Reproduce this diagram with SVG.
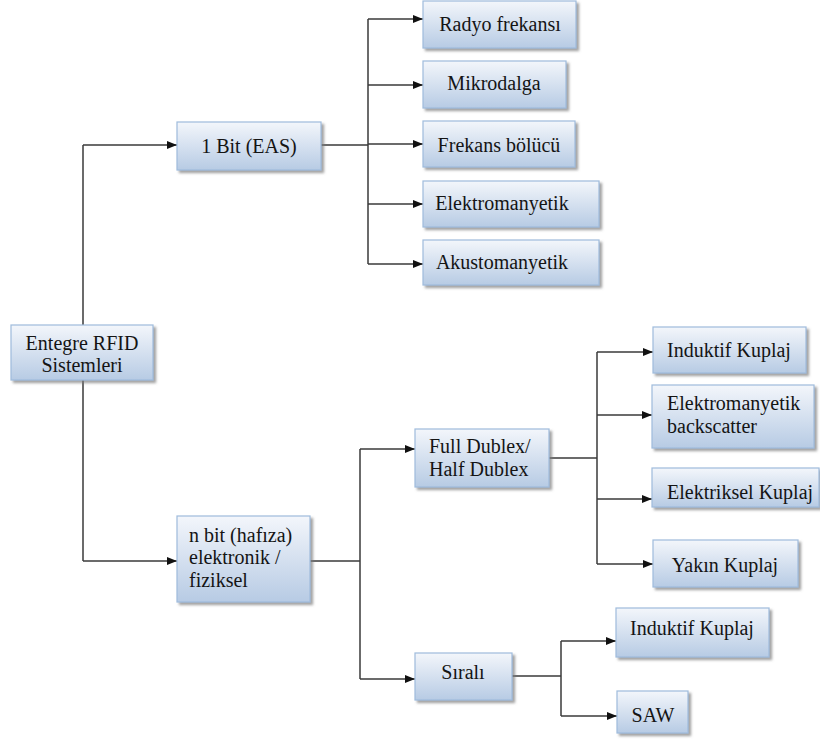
<svg xmlns="http://www.w3.org/2000/svg" width="820" height="746" viewBox="0 0 820 746">
  <defs>
    <linearGradient id="boxFill" x1="0" y1="0" x2="0" y2="1">
      <stop offset="0" stop-color="#f3f6fb"/>
      <stop offset="1" stop-color="#b7cbe4"/>
    </linearGradient>
    <filter id="shadow" x="-10%" y="-10%" width="130%" height="140%">
      <feDropShadow dx="2.5" dy="2.5" stdDeviation="1.2" flood-color="#7a7a7a" flood-opacity="0.7"/>
    </filter>
    <marker id="arrow" viewBox="0 0 10 8" refX="10" refY="4" markerWidth="10" markerHeight="8" markerUnits="userSpaceOnUse" orient="auto">
      <path d="M0,0 L10,4 L0,8 Z" fill="#111"/>
    </marker>
  </defs>
  <style>
    .box { fill: url(#boxFill); stroke: #9fbbdc; stroke-width: 1.2; filter: url(#shadow); }
    text { font-family: 'Liberation Serif', 'DejaVu Serif', serif; font-size: 20px; fill: #141414; }
    .c { text-anchor: middle; }
    .conn { fill: none; stroke: #3a3a3a; stroke-width: 1.5; }
    .arr { marker-end: url(#arrow); }
  </style>

  <rect width="820" height="746" fill="#ffffff"/>

  <!-- connectors -->
  <g id="connectors">
    <!-- root to first level -->
    <path class="conn" d="M83,325 V145"/>
    <path class="conn arr" d="M83,145 H177"/>
    <path class="conn" d="M83,380 V561"/>
    <path class="conn arr" d="M83,561 H177"/>
    <!-- 1 Bit (EAS) branches -->
    <path class="conn" d="M321,145 H368"/>
    <path class="conn" d="M368,19 V264"/>
    <path class="conn arr" d="M368,19 H423"/>
    <path class="conn arr" d="M368,85 H423"/>
    <path class="conn arr" d="M368,144 H423"/>
    <path class="conn arr" d="M368,204 H423"/>
    <path class="conn arr" d="M368,264 H423"/>
    <!-- n bit branches -->
    <path class="conn" d="M310,561 H360"/>
    <path class="conn" d="M360,449 V679"/>
    <path class="conn arr" d="M360,449 H415"/>
    <path class="conn arr" d="M360,679 H415"/>
    <!-- Full / Half Dublex branches -->
    <path class="conn" d="M549,458 H597"/>
    <path class="conn" d="M597,352 V564"/>
    <path class="conn arr" d="M597,352 H653"/>
    <path class="conn arr" d="M597,415 H652"/>
    <path class="conn arr" d="M597,499 H652"/>
    <path class="conn arr" d="M597,564 H653"/>
    <!-- Sıralı branches -->
    <path class="conn" d="M512,676 H561"/>
    <path class="conn" d="M561,641 V716"/>
    <path class="conn arr" d="M561,641 H616"/>
    <path class="conn arr" d="M561,716 H617"/>
  </g>

  <!-- root -->
  <g id="node-entegre">
    <rect class="box" x="11" y="325" width="142" height="55"/>
    <text class="c" x="82" y="350">Entegre RFID</text>
    <text class="c" x="82" y="372">Sistemleri</text>
  </g>

  <!-- 1 bit branch -->
  <g id="node-1bit">
    <rect class="box" x="177" y="122" width="144" height="48"/>
    <text class="c" x="249" y="153">1 Bit (EAS)</text>
  </g>
  <g id="node-radyo">
    <rect class="box" x="423" y="1" width="153" height="47"/>
    <text class="c" x="500" y="31">Radyo frekansı</text>
  </g>
  <g id="node-mikrodalga">
    <rect class="box" x="423" y="61" width="143" height="47"/>
    <text class="c" x="494" y="90">Mikrodalga</text>
  </g>
  <g id="node-frekans">
    <rect class="box" x="423" y="121" width="152" height="46"/>
    <text class="c" x="499" y="152">Frekans bölücü</text>
  </g>
  <g id="node-elektromanyetik">
    <rect class="box" x="423" y="181" width="176" height="46"/>
    <text class="c" x="502" y="210">Elektromanyetik</text>
  </g>
  <g id="node-akusto">
    <rect class="box" x="423" y="240" width="176" height="45"/>
    <text class="c" x="502" y="269">Akustomanyetik</text>
  </g>

  <!-- n bit branch -->
  <g id="node-nbit">
    <rect class="box" x="177" y="516" width="133" height="86"/>
    <text x="189" y="542">n bit (hafıza)</text>
    <text x="189" y="564">elektronik /</text>
    <text x="189" y="587">fiziksel</text>
  </g>
  <g id="node-dublex">
    <rect class="box" x="415" y="429" width="134" height="58"/>
    <text x="429" y="453">Full Dublex/</text>
    <text x="429" y="476">Half Dublex</text>
  </g>
  <g id="node-sirali">
    <rect class="box" x="415" y="653" width="97" height="47"/>
    <text class="c" x="463" y="679">Sıralı</text>
  </g>

  <!-- Full / Half Dublex children -->
  <g id="node-induktif-1">
    <rect class="box" x="653" y="327" width="153" height="46"/>
    <text class="c" x="729" y="357">Induktif Kuplaj</text>
  </g>
  <g id="node-backscatter">
    <rect class="box" x="652" y="385" width="162" height="63"/>
    <text x="667" y="410">Elektromanyetik</text>
    <text x="667" y="433">backscatter</text>
  </g>
  <g id="node-elektriksel">
    <rect class="box" x="652" y="468" width="167" height="39"/>
    <text x="667" y="499">Elektriksel Kuplaj</text>
  </g>
  <g id="node-yakin">
    <rect class="box" x="653" y="540" width="145" height="47"/>
    <text class="c" x="725" y="572">Yakın Kuplaj</text>
  </g>

  <!-- Sıralı children -->
  <g id="node-induktif-2">
    <rect class="box" x="616" y="608" width="153" height="49"/>
    <text class="c" x="692" y="635">Induktif Kuplaj</text>
  </g>
  <g id="node-saw">
    <rect class="box" x="617" y="691" width="71" height="42"/>
    <text class="c" x="653" y="722">SAW</text>
  </g>
</svg>
